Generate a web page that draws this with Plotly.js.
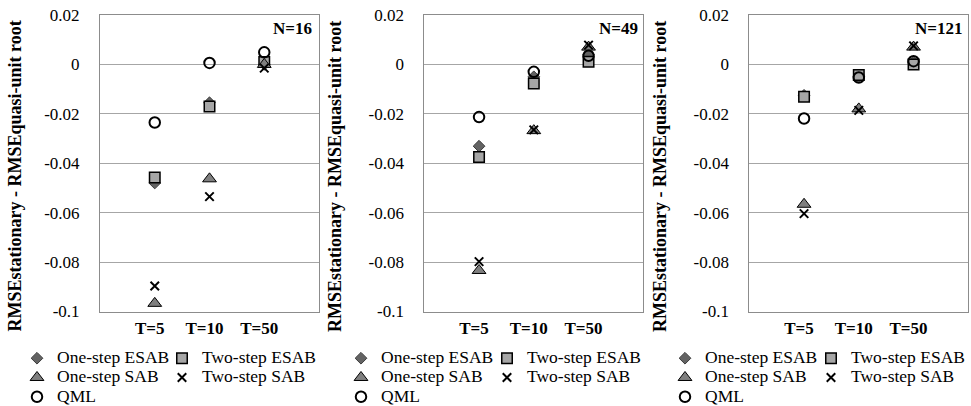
<!DOCTYPE html>
<html><head><meta charset="utf-8">
<script src="https://cdn.plot.ly/plotly-3.0.1.min.js"></script>
<style>html,body{margin:0;padding:0;background:#fff;} #chart{width:971px;height:406px;}</style>
</head><body><div id="chart"></div>
<script>
// ---------- data ----------
const categoryPositions = [1, 2, 3];
const categoryLabels = ['T=5', 'T=10', 'T=50'];
const panelLabels = ['N=16', 'N=49', 'N=121'];
const seriesNames = ['One-step ESAB', 'Two-step ESAB', 'One-step SAB', 'Two-step SAB', 'QML'];
const yTickValues = [0.02, 0, -0.02, -0.04, -0.06, -0.08, -0.1];
const yTickLabels = ['0.02', '0', '-0.02', '-0.04', '-0.06', '-0.08', '-0.1'];
const yAxisTitle = 'RMSEstationary - RMSEquasi-unit root';

// N=16
const oneStepESAB_N16 = [-0.0480, -0.0155, 0.0000];
const twoStepESAB_N16 = [-0.0458, -0.0170, 0.0010];
const oneStepSAB_N16  = [-0.0967, -0.0463, 0.0000];
const twoStepSAB_N16  = [-0.0897, -0.0535, -0.0015];
const qml_N16         = [-0.0235, 0.0006, 0.0049];
// N=49
const oneStepESAB_N49 = [-0.0331, -0.0050, 0.0040];
const twoStepESAB_N49 = [-0.0375, -0.0077, 0.0011];
const oneStepSAB_N49  = [-0.0834, -0.0268, 0.0070];
const twoStepSAB_N49  = [-0.0798, -0.0265, 0.0078];
const qml_N49         = [-0.0213, -0.0030, 0.0035];
// N=121
const oneStepESAB_N121 = [-0.0125, -0.0050, 0.0010];
const twoStepESAB_N121 = [-0.0131, -0.0043, 0.0000];
const oneStepSAB_N121  = [-0.0566, -0.0180, 0.0070];
const twoStepSAB_N121  = [-0.0604, -0.0186, 0.0075];
const qml_N121         = [-0.0219, -0.0053, 0.0013];

const panels = [
  [oneStepESAB_N16, twoStepESAB_N16, oneStepSAB_N16, twoStepSAB_N16, qml_N16],
  [oneStepESAB_N49, twoStepESAB_N49, oneStepSAB_N49, twoStepSAB_N49, qml_N49],
  [oneStepESAB_N121, twoStepESAB_N121, oneStepSAB_N121, twoStepSAB_N121, qml_N121]
];

// ---------- styles / layout ----------
const W = 971, H = 406;
const FONT = 'Liberation Serif, Times New Roman, serif';
const seriesStyles = [
  {symbol: 'diamond', size: 9, color: '#636363', line: {color: '#3c3c3c', width: 1}},
  {symbol: 'square', size: 10.5, color: '#a6a6a6', line: {color: '#000000', width: 1.5}},
  {symbol: 'triangle-up', size: 12, color: '#7f7f7f', line: {color: '#000000', width: 1}},
  {symbol: 'x-thin-open', size: 8.5, color: '#000000', line: {color: '#000000', width: 2}},
  {symbol: 'circle-open', size: 10.5, color: '#000000', line: {color: '#000000', width: 2}}
];
const legendColumnOfSeries = [0, 1, 0, 1, 0];
const plotLeftPx = [100, 424.3, 749.3];
const plotWidthPx = 219;
const plotTopPx = 15, plotBottomPx = 311.5;
const titleCenterXPx = [15, 335.5, 660.5];
const titleCenterYPx = 176.5;
const nLabelRightPx = [314, 639.5, 964];
const nLabelYPx = 29;
const legendTextStartPx = [[55, 200], [379, 525], [703, 849]];
const legendTopPx = 343.6;

const traces = [];
const layout = {
  width: W, height: H,
  margin: {l: 0, r: 0, t: 0, b: 0, autoexpand: false},
  paper_bgcolor: '#ffffff', plot_bgcolor: '#ffffff',
  font: {family: FONT, color: '#000000'},
  annotations: [],
  hovermode: false
};

panels.forEach((series, p) => {
  const ax = p === 0 ? '' : String(p + 1);
  const xDomain = [plotLeftPx[p] / W, (plotLeftPx[p] + plotWidthPx) / W];
  const yDomain = [1 - plotBottomPx / H, 1 - plotTopPx / H];
  layout['xaxis' + ax] = {
    domain: xDomain, range: [0, 4], anchor: 'y' + ax,
    tickmode: 'array', tickvals: categoryPositions, ticktext: categoryLabels,
    tickfont: {family: FONT, size: 17, weight: 'bold', color: '#000000'},
    ticks: '', showgrid: false, zeroline: false,
    showline: true, mirror: true, linecolor: '#8c8c8c', linewidth: 1,
    ticklabelstandoff: 1, ticklabelshift: -5, fixedrange: true
  };
  layout['yaxis' + ax] = {
    domain: yDomain, range: [-0.1, 0.02], anchor: 'x' + ax,
    tickmode: 'array', tickvals: yTickValues, ticktext: yTickLabels,
    tickfont: {family: FONT, size: 17, color: '#000000'},
    ticks: '', showgrid: true, gridcolor: '#a6a6a6', gridwidth: 1, zeroline: false,
    showline: true, mirror: true, linecolor: '#8c8c8c', linewidth: 1,
    ticklabelstandoff: 16, fixedrange: true
  };
  const legendIds = [2 * p + 1, 2 * p + 2].map(n => n === 1 ? 'legend' : 'legend' + n);
  legendIds.forEach((id, c) => {
    layout[id] = {
      x: (legendTextStartPx[p][c] - 38) / W, xanchor: 'left',
      y: 1 - legendTopPx / H, yanchor: 'top',
      orientation: 'v', bgcolor: 'rgba(0,0,0,0)', borderwidth: 0,
      font: {family: FONT, size: 12.5, color: '#000000'},
      tracegroupgap: 0, itemclick: false, itemdoubleclick: false
    };
  });
  series.forEach((vals, s) => {
    const st = seriesStyles[s];
    traces.push({
      type: 'scatter', mode: 'markers',
      x: categoryPositions, y: vals,
      xaxis: 'x' + ax, yaxis: 'y' + ax,
      name: '<span style="font-size:17.5px">' + seriesNames[s] + '</span>',
      legend: legendIds[legendColumnOfSeries[s]],
      showlegend: true, cliponaxis: false,
      marker: {symbol: st.symbol, size: st.size, color: st.color, line: st.line}
    });
  });
  layout.annotations.push({
    xref: 'paper', yref: 'paper', x: titleCenterXPx[p] / W, y: 1 - titleCenterYPx / H,
    xanchor: 'center', yanchor: 'middle', textangle: -90, showarrow: false,
    text: yAxisTitle, font: {family: FONT, size: 18, weight: 'bold', color: '#000000'}
  });
  layout.annotations.push({
    xref: 'paper', yref: 'paper', x: nLabelRightPx[p] / W, y: 1 - nLabelYPx / H,
    xanchor: 'right', yanchor: 'middle', showarrow: false,
    text: panelLabels[p], font: {family: FONT, size: 17, weight: 'bold', color: '#000000'}
  });
});

Plotly.newPlot('chart', traces, layout, {staticPlot: true, displayModeBar: false});
</script>
</body></html>
